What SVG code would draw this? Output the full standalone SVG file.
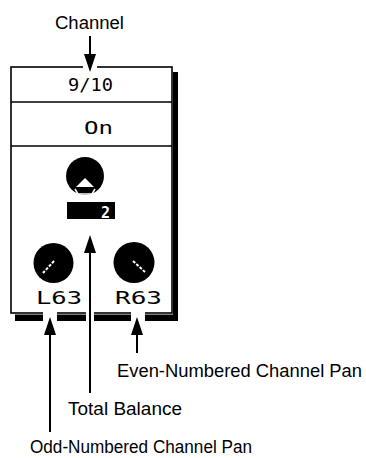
<svg xmlns="http://www.w3.org/2000/svg" width="366" height="458" viewBox="0 0 366 458">
<style>
.lbl{font-family:"Liberation Sans",Arial,sans-serif;font-size:17.5px;fill:#000}
.lcd{font-family:"DejaVu Sans Mono","Liberation Mono",monospace;font-size:18px;fill:#000}
.ln{stroke:#000;stroke-width:2;fill:none}
.head{fill:#000}
.ptr{stroke:#fff;stroke-width:2;stroke-dasharray:3 1.5;fill:none}
</style>
<rect width="366" height="458" fill="#fff"/>
<g id="panel">
<rect x="15" y="72" width="163" height="249" fill="#000"/>
<rect x="9" y="65" width="164" height="249.5" fill="#fff"/>
<rect x="11" y="67" width="161" height="246" fill="#fff" stroke="#000" stroke-width="1.6"/>
<line x1="11" y1="102" x2="172" y2="102" stroke="#000" stroke-width="1.6"/>
<line x1="11" y1="146" x2="172" y2="146" stroke="#000" stroke-width="1.6"/>
</g>
<g id="channel-display">
<text class="lcd" x="68" y="91" textLength="45" lengthAdjust="spacingAndGlyphs">9/10</text>
</g>
<g id="on-display">
<text class="lcd" x="84" y="133.5" textLength="29" lengthAdjust="spacingAndGlyphs">On</text>
</g>
<g id="balance-knob">
<circle cx="85" cy="176" r="19" fill="#000"/>
<polygon points="85,178 76,187 94,187" fill="#fff"/>
<polyline points="75,189 78,194 92,194 95,189" fill="none" stroke="#fff" stroke-width="1.5"/>
<rect x="67" y="202" width="48" height="17" fill="#000"/>
<text x="101" y="218" font-family="DejaVu Sans Mono,monospace" font-size="15" font-weight="bold" fill="#fff">2</text>
</g>
<g id="odd-knob">
<circle cx="53.5" cy="263" r="20" fill="#000"/>
<line class="ptr" x1="54" y1="261" x2="43" y2="273"/>
<text class="lcd" x="36" y="304" textLength="46" lengthAdjust="spacingAndGlyphs">L63</text>
</g>
<g id="even-knob">
<circle cx="134" cy="262.5" r="20.5" fill="#000"/>
<line class="ptr" x1="133" y1="261" x2="145" y2="272"/>
<text class="lcd" x="115" y="304" textLength="47" lengthAdjust="spacingAndGlyphs">R63</text>
</g>
<g id="connectors">
<rect x="83" y="64" width="14" height="5" fill="#fff"/>
<rect x="43" y="311" width="14" height="12" fill="#fff"/>
<rect x="86" y="311" width="8" height="12" fill="#fff"/>
<rect x="131" y="311" width="14" height="12" fill="#fff"/>
<line class="ln" x1="90" y1="36" x2="90" y2="56"/>
<polygon class="head" points="84,54 96,54 90,72"/>
<line class="ln" x1="90" y1="393" x2="90" y2="250"/>
<polygon class="head" points="84,253 96,253 90,235"/>
<line class="ln" x1="50" y1="432" x2="50" y2="332"/>
<polygon class="head" points="44,335 56,335 50,317"/>
<line class="ln" x1="137" y1="353" x2="137" y2="332"/>
<polygon class="head" points="131,335 143,335 137,317"/>
</g>
<g id="labels">
<text class="lbl" x="55" y="29" textLength="69" lengthAdjust="spacingAndGlyphs">Channel</text>
<text class="lbl" x="117" y="377" textLength="245" lengthAdjust="spacingAndGlyphs">Even-Numbered Channel Pan</text>
<text class="lbl" x="68" y="415" textLength="114" lengthAdjust="spacingAndGlyphs">Total Balance</text>
<text class="lbl" x="30" y="453" textLength="222" lengthAdjust="spacingAndGlyphs">Odd-Numbered Channel Pan</text>
</g>
</svg>
